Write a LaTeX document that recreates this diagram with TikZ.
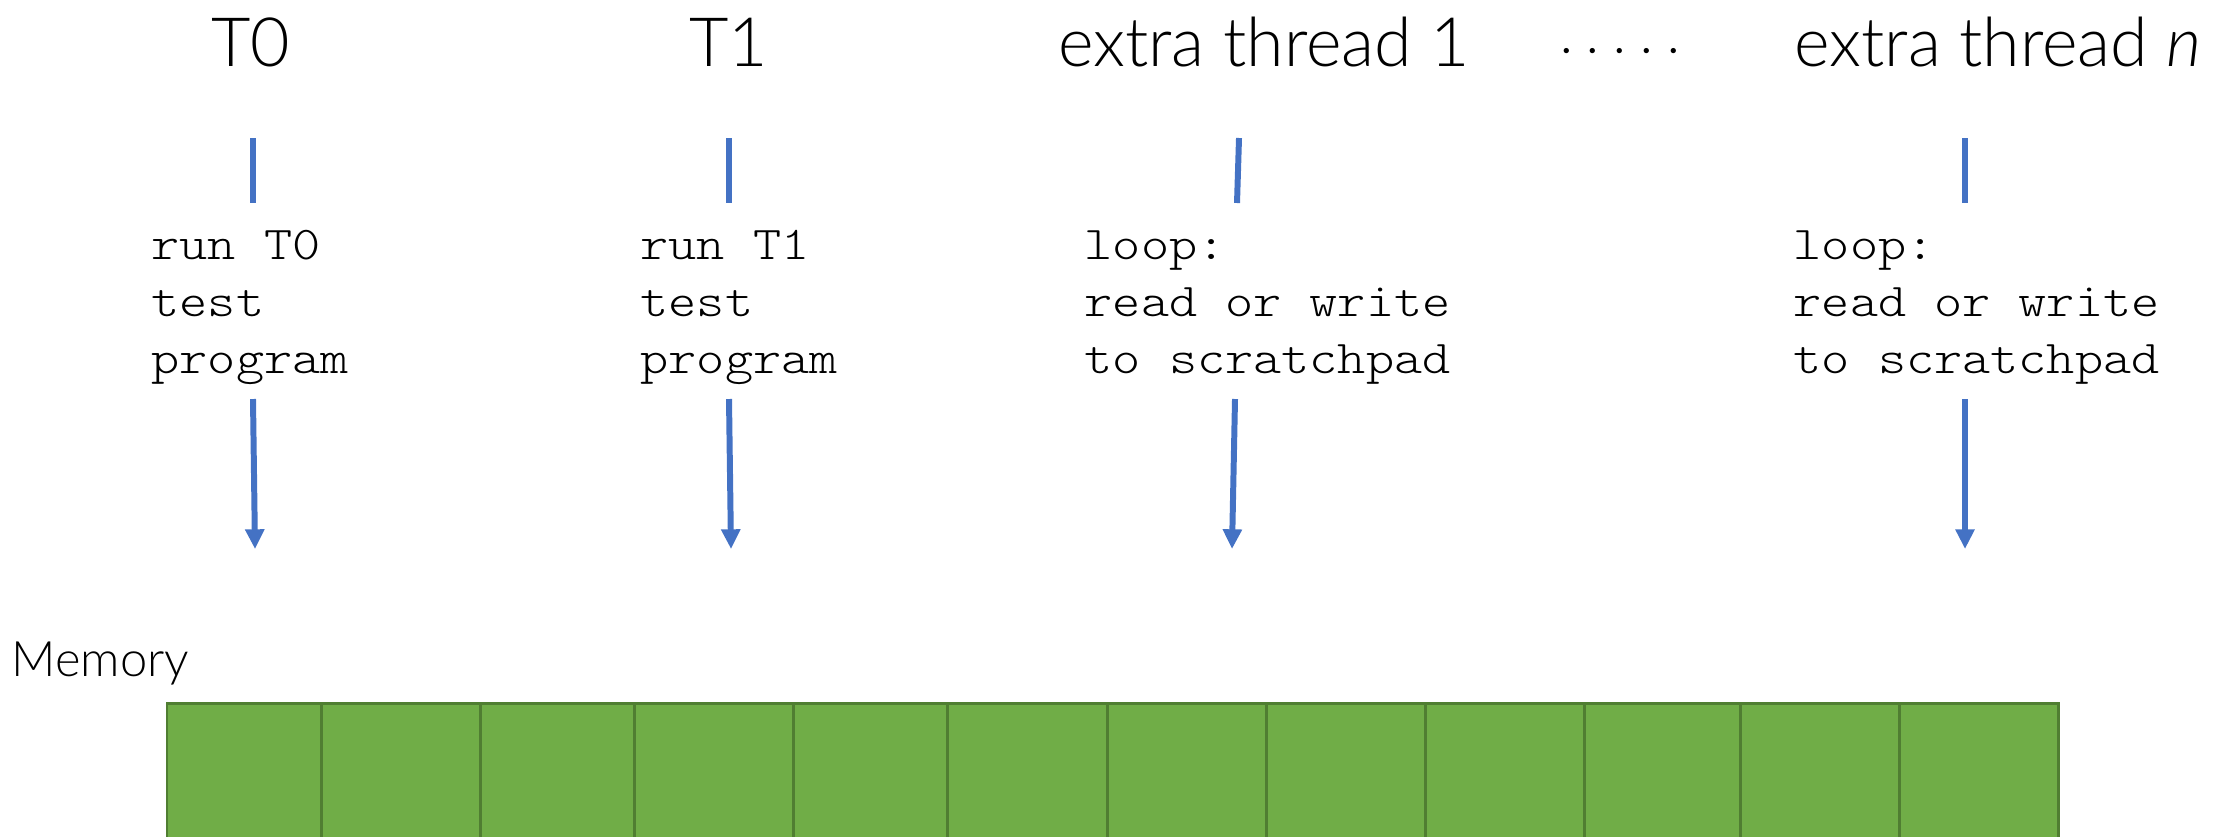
\documentclass[tikz,border=0pt]{standalone}
\usepackage{fontspec}
\setmainfont{Lato}[UprightFont=* Light, ItalicFont=* Light Italic]
\setmonofont{lmmonolt10-regular.otf}[FakeStretch=1.14]
\usetikzlibrary{arrows.meta}
\definecolor{threadblue}{HTML}{4472C4}
\definecolor{cellgreen}{HTML}{70AD47}
\definecolor{celledge}{HTML}{507E32}
\tikzset{
  title/.style={anchor=base, inner sep=0pt, font=\fontsize{19.35}{23}\selectfont},
  code/.style={anchor=north west, inner sep=0pt, align=left,
    font=\ttfamily\fontsize{13.37}{16.2}\selectfont},
  link/.style={draw=threadblue, line width=1.7pt},
  feed/.style={link, -{Triangle[width=5.2pt,length=5.6pt]}},
  cell/.style={fill=cellgreen, draw=celledge, line width=0.85pt},
}
\begin{document}
\begin{tikzpicture}[x=0.01cm,y=-0.01cm]
\useasboundingbox (0,0) rectangle (2225,836);
\clip (0,0) rectangle (2225,836);

% thread headings
\node[title] (t0) at (251,66) {T0};
\node[title] (t1) at (729,66) {T1};
\node[title] (x1) at (1264,66) {extra thread 1};
\node[title, font=\fontsize{14.8}{18}\selectfont] (dots) at (1620,66) {· · · · ·};
\node[title] (xn) at (1998,66) {extra thread \textit{n}};

% what each thread runs
\node[code] (c0) at (151,230) {run T0\\test\\program};
\node[code] (c1) at (640,230) {run T1\\test\\program};
\node[code] (cx1) at (1084,230) {loop:\\read or write\\to scratchpad};
\node[code] (cxn) at (1793,230) {loop:\\read or write\\to scratchpad};

% end points of the thread lines
\coordinate (u0a) at (253,138);  \coordinate (u0b) at (253,203);
\coordinate (u1a) at (729,138);  \coordinate (u1b) at (729,203);
\coordinate (ux1a) at (1239,138); \coordinate (ux1b) at (1237,203);
\coordinate (uxna) at (1965,138); \coordinate (uxnb) at (1965,203);
\coordinate (d0a) at (253,399);  \coordinate (d0b) at (255,549);
\coordinate (d1a) at (729,399);  \coordinate (d1b) at (731,549);
\coordinate (dx1a) at (1235,399); \coordinate (dx1b) at (1232,549);
\coordinate (dxna) at (1965,399); \coordinate (dxnb) at (1965,549);

\draw[link] (u0a) -- (u0b);
\draw[link] (u1a) -- (u1b);
\draw[link] (ux1a) -- (ux1b);
\draw[link] (uxna) -- (uxnb);
\draw[feed] (d0a) -- (d0b);
\draw[feed] (d1a) -- (d1b);
\draw[feed] (dx1a) -- (dx1b);
\draw[feed] (dxna) -- (dxnb);

% memory
\node[anchor=base west, inner sep=0pt, font=\fontsize{13.9}{17}\selectfont] (mem) at (11,676) {Memory};
\foreach \a/\b in {167/321, 321/480, 480/634, 634/793, 793/947, 947/1107,
                   1107/1266, 1266/1425, 1425/1584, 1584/1740, 1740/1899, 1899/2058}
  \draw[cell] (\a,703) rectangle (\b,860);
\end{tikzpicture}
\end{document}
